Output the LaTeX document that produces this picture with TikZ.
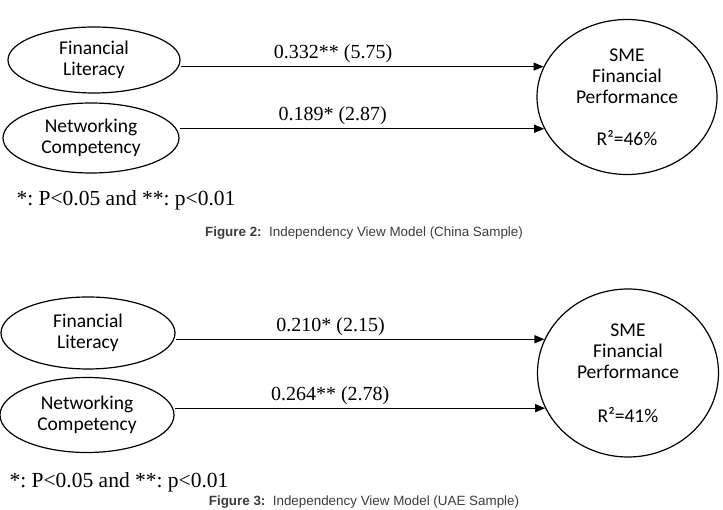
\documentclass[tikz,border=0pt]{standalone}
\usepackage{fontspec}
\setmainfont{Liberation Serif}
\newfontfamily\calibfont{Carlito}
\newfontfamily\capfont{Liberation Sans}
\usetikzlibrary{shapes.geometric,arrows.meta}
\definecolor{capgray}{HTML}{3C3C3C}
\frenchspacing

\begin{document}
\begin{tikzpicture}[
  x=1pt,y=-1pt,
  >={Triangle[length=10pt,width=8pt]},
  latent/.style={draw,ellipse,line width=1.2pt,inner sep=0pt,align=center,
    font=\calibfont\fontsize{19.5}{21}\selectfont},
  flow/.style={->,line width=1.1pt},
  coef/.style={above,pos=0.42,font=\fontsize{20}{22}\selectfont},
  note/.style={anchor=west,font=\fontsize{21.5}{24}\selectfont},
  caption/.style={text=capgray,font=\capfont\fontsize{13.4}{15}\selectfont}
]
  \useasboundingbox (0,0) rectangle (723,510);
  \clip (0,0) rectangle (723,510);

  % China sample
  \node[latent,minimum width=172pt,minimum height=66pt] (lit1) at (94,60) {Financial\\Literacy};
  \node[latent,minimum width=176pt,minimum height=70pt] (net1) at (91,138) {Networking\\Competency};
  \node[latent,minimum width=180pt,minimum height=155pt] (perf1) at (627,97)
    {SME\\Financial\\Performance\\[21pt]R²=46\%};
  \draw[flow] (lit1.east |- perf1.160) -- node[coef] {0.332** (5.75)} (perf1.160);
  \draw[flow] (net1.east |- perf1.201) -- node[coef] {0.189* (2.87)} (perf1.201);
  \node[note] (sig1) at (13,200) {*: P<0.05 and **: p<0.01};
  \node[caption] (cap1) at (364,233) {\textbf{Figure 2:}\ \ Independency View Model (China Sample)};

  % UAE sample
  \node[latent,minimum width=174pt,minimum height=72pt] (lit2) at (88,333) {Financial\\Literacy};
  \node[latent,minimum width=174pt,minimum height=75pt] (net2) at (87,415) {Networking\\Competency};
  \node[latent,minimum width=181pt,minimum height=168pt] (perf2) at (628,373)
    {SME\\Financial\\Performance\\[23pt]R²=41\%};
  \draw[flow] (lit2.east |- perf2.158) -- node[coef] {0.210* (2.15)} (perf2.158);
  \draw[flow] (net2.east |- perf2.203) -- node[coef] {0.264** (2.78)} (perf2.203);
  \node[note] (sig2) at (6,482) {*: P<0.05 and **: p<0.01};
  \node[caption] (cap2) at (364,502) {\textbf{Figure 3:}\ \ Independency View Model (UAE Sample)};
\end{tikzpicture}
\end{document}
